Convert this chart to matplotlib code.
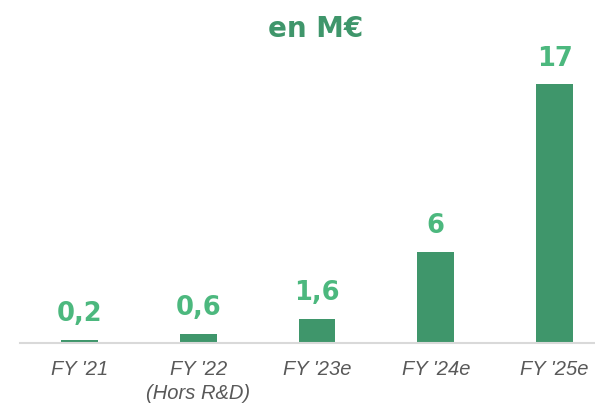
import matplotlib.pyplot as plt

# Données (en M€)
categories = ["FY '21", "FY '22\n(Hors R&D)", "FY '23e", "FY '24e", "FY '25e"]
valeurs = [0.2, 0.6, 1.6, 6, 17]
etiquettes = ["0,2", "0,6", "1,6", "6", "17"]

vert_barre = '#3f966b'
vert_texte = '#4cb87e'

fig = plt.figure(figsize=(5.95, 4.04), dpi=100)
ax = fig.add_axes([20 / 595, 61 / 404, 575 / 595, 300 / 404])

x = range(len(categories))
barres = ax.bar(x, valeurs, width=0.31, color=vert_barre)

for b, txt in zip(barres, etiquettes):
    ax.annotate(txt, (b.get_x() + b.get_width() / 2, b.get_height()),
                xytext=(0, 9), textcoords='offset points',
                ha='center', va='bottom', color=vert_texte,
                fontsize=18.5, fontweight='heavy', family='DejaVu Sans')

ax.set_xlim(-0.5, 4.34)
ax.set_ylim(0, 19.7)
ax.set_xticks(list(x))
ax.set_xticklabels(categories, fontsize=14.5, style='italic',
                   color='#595959', family='Liberation Sans',
                   linespacing=1.35)
ax.tick_params(axis='x', length=0, pad=12)
ax.set_yticks([])
for s in ['top', 'right', 'left']:
    ax.spines[s].set_visible(False)
ax.spines['bottom'].set_color('#d9d9d9')
ax.spines['bottom'].set_linewidth(1.5)

fig.text(316 / 595, 1 - 29 / 404, 'en M€', ha='center', va='center',
         color=vert_barre, fontsize=20, fontweight='heavy',
         family='DejaVu Sans')

fig.savefig('out.png', dpi=100)
